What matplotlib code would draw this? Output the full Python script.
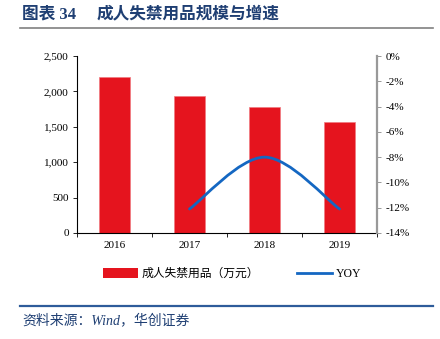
import matplotlib.pyplot as plt
from matplotlib.path import Path
from matplotlib.patches import PathPatch
from matplotlib.lines import Line2D
from matplotlib.patches import Patch
from matplotlib.ticker import FuncFormatter

plt.rcParams['font.family'] = ['Liberation Serif', 'Noto Sans CJK SC', 'DejaVu Sans']

years = ['2016', '2017', '2018', '2019']
scale = [2205, 1940, 1785, 1572]      # 万元
yoy = [None, -12.1, -8.0, -12.1]      # %

bar_color = '#E5141E'
line_color = '#1467C2'
title_blue = '#1F3F73'

fig = plt.figure(figsize=(4.4, 3.39), dpi=100)
ax = fig.add_axes([77 / 440, 1 - 233 / 339, 300 / 440, 177 / 339])

x = list(range(len(years)))
ax.bar(x, scale, width=0.42, color=bar_color, edgecolor='#F07A80', linewidth=0.5, zorder=2)
ax.set_xlim(-0.5, 3.5)
ax.set_ylim(0, 2500)
ax.set_yticks(range(0, 2501, 500))
ax.yaxis.set_major_formatter(FuncFormatter(lambda v, p: f'{int(v):,}'))
ax.set_xticks(x)
ax.set_xticklabels(years)
ax.set_xticks([i + 0.5 for i in range(-1, 4)], minor=True)
ax.tick_params(axis='x', which='major', length=0, labelsize=8, pad=6)
ax.tick_params(axis='x', which='minor', length=3, width=0.6, direction='out')
ax.tick_params(axis='y', length=3, width=0.6, labelsize=8, pad=3)
for s in ['top', 'right']:
    ax.spines[s].set_visible(False)
ax.spines['left'].set_linewidth(0.8)
ax.spines['bottom'].set_linewidth(0.8)

ax2 = ax.twinx()
ax2.set_ylim(-14, 0)
ax2.set_yticks(range(-14, 1, 2))
ax2.yaxis.set_major_formatter(FuncFormatter(lambda v, p: f'{int(v)}%'))
ax2.tick_params(axis='y', length=3, width=0.6, labelsize=8, pad=3,
                color='#888888', labelcolor='black')
for s in ['top', 'left', 'bottom']:
    ax2.spines[s].set_visible(False)
ax2.spines['right'].set_color('#999999')
ax2.spines['right'].set_linewidth(1.6)

# smoothed YOY line (Catmull-Rom style Bezier through the points)
pts = [(i, v) for i, v in enumerate(yoy) if v is not None]
verts = [pts[0]]
codes = [Path.MOVETO]
for k in range(len(pts) - 1):
    p0 = pts[k - 1] if k > 0 else pts[k]
    p1 = pts[k]
    p2 = pts[k + 1]
    p3 = pts[k + 2] if k + 2 < len(pts) else pts[k + 1]
    c1 = (p1[0] + (p2[0] - p0[0]) / 6, p1[1] + (p2[1] - p0[1]) / 6)
    c2 = (p2[0] - (p3[0] - p1[0]) / 6, p2[1] - (p3[1] - p1[1]) / 6)
    verts += [c1, c2, p2]
    codes += [Path.CURVE4] * 3
ax2.add_patch(PathPatch(Path(verts, codes), facecolor='none', edgecolor=line_color,
                        linewidth=2, capstyle='round', zorder=3))

handles = [Patch(facecolor=bar_color, edgecolor='none'),
           Line2D([0], [0], color=line_color, linewidth=2)]
fig.legend(handles, ['成人失禁用品（万元）', 'YOY'], loc='center',
           bbox_to_anchor=(232 / 440, 1 - 274 / 339), ncol=2, frameon=False,
           handlelength=3.0, handleheight=0.9, columnspacing=3.2,
           handletextpad=0.3, prop={'family': ['Liberation Serif', 'Noto Sans CJK SC'], 'size': 8.5})

# header and footer
title_font = dict(color=title_blue, fontsize=12, fontweight='bold', va='center', ha='left',
                  family=['Liberation Serif', 'Noto Sans CJK SC'])
fig.text(22 / 440, 1 - 14 / 339, '图表 34', **title_font)
fig.text(97 / 440, 1 - 14 / 339, '成人失禁用品规模与增速', **title_font)
fig.add_artist(Line2D([20 / 440, 433 / 440], [1 - 28 / 339, 1 - 28 / 339],
                      color='#808080', linewidth=1.2))
fig.add_artist(Line2D([20 / 440, 433 / 440], [1 - 305.5 / 339, 1 - 305.5 / 339],
                      color='#2E5C9A', linewidth=1.6))
fig.text(22 / 440, 1 - 320 / 339, '资料来源：Wind，华创证券', color=title_blue,
         fontsize=10, style='italic', va='center', ha='left',
         family=['Liberation Serif', 'Noto Sans CJK SC'])

fig.savefig('out.png', dpi=100)
